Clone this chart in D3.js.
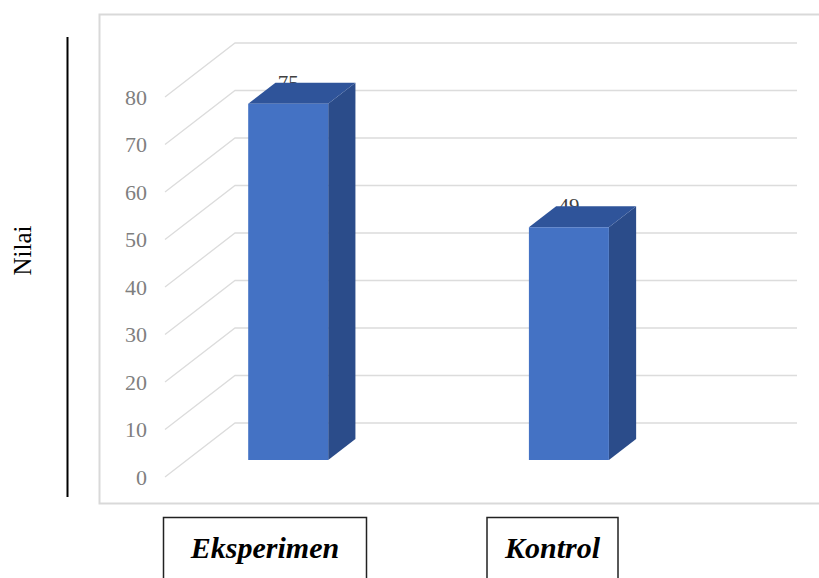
<!DOCTYPE html>
<html><head><meta charset="utf-8">
<script src="https://cdn.jsdelivr.net/npm/d3@7/dist/d3.min.js"></script>
<style>html,body{margin:0;padding:0;background:#fff;}svg{display:block;}</style>
</head><body>
<svg id="c" width="819" height="578"></svg>
<script>
const categories = ["Eksperimen", "Kontrol"];
const values = [75, 49];
const valueLabels = ["75", "49"];
const yTicks = [0, 10, 20, 30, 40, 50, 60, 70, 80];
const yTitle = "Nilai";

const svg = d3.select("#c");
svg.append("rect").attr("width", 819).attr("height", 578).attr("fill", "#fff");

// 3D projection parameters
const DX = 70, DY = -54;          // full-depth offset
const F0 = 0.315, F1 = 0.704;     // bar depth (front/back fraction)
const y = d3.scaleLinear().domain([0, 80]).range([477, 97]);
const x = d3.scaleBand().domain(categories).range([170, 643]).paddingInner(0.715).paddingOuter(0.2);
const P = (xw, v, f) => [xw + DX * f, y(v) + DY * f];

// chart area border
svg.append("rect").attr("x", 99.5).attr("y", 14.5).attr("width", 760).attr("height", 489)
  .attr("fill", "none").attr("stroke", "#d9d9d9").attr("stroke-width", 2);

// gridlines (side wall diagonal + back wall)
const grid = svg.append("g");
yTicks.forEach(t => {
  const x0 = 165, yy = y(t);
  grid.append("path")
    .attr("d", `M${x0},${yy}L${x0 + DX},${yy + DY}L797,${yy + DY}`)
    .attr("fill", "none").attr("stroke", "#dcdcdc").attr("stroke-width", 1.3);
});

// y axis tick labels
const ax = svg.append("g").attr("transform", "translate(147,0)")
  .call(d3.axisLeft(y).tickValues(yTicks).tickSize(0).tickPadding(0));
ax.select(".domain").remove();
ax.selectAll("text").attr("font-family", "'Liberation Serif', 'Times New Roman', serif")
  .attr("font-size", 22).attr("fill", "#7f7f7f");

// value labels (drawn before bars so the top face overlaps them)
svg.append("g").selectAll("text").data(categories).join("text")
  .attr("x", (c) => x(c) + x.bandwidth() / 2 + DX * F0)
  .attr("y", (c, i) => y(values[i]) + DY * F0 - 14)
  .attr("text-anchor", "middle")
  .attr("font-family", "'Liberation Serif', 'Times New Roman', serif")
  .attr("font-size", 21).attr("fill", "#404040")
  .text((c, i) => valueLabels[i]);

// bars
const bars = svg.append("g");
categories.forEach((c, i) => {
  const xl = x(c), xr = x(c) + x.bandwidth(), v = values[i];
  const poly = pts => "M" + pts.map(p => p.join(",")).join("L") + "Z";
  // side face
  bars.append("path").attr("d", poly([P(xr, 0, F0), P(xr, v, F0), P(xr, v, F1), P(xr, 0, F1)]))
    .attr("fill", "#2B4C8A");
  // top face
  bars.append("path").attr("d", poly([P(xl, v, F0), P(xl, v, F1), P(xr, v, F1), P(xr, v, F0)]))
    .attr("fill", "#2F549A");
  // front face
  bars.append("path").attr("d", poly([P(xl, 0, F0), P(xl, v, F0), P(xr, v, F0), P(xr, 0, F0)]))
    .attr("fill", "#4472C4");
});

// left vertical line and y title
svg.append("line").attr("x1", 67.5).attr("x2", 67.5).attr("y1", 37).attr("y2", 497)
  .attr("stroke", "#000").attr("stroke-width", 2);
svg.append("text").attr("transform", "translate(31,250.5) rotate(-90)")
  .attr("text-anchor", "middle")
  .attr("font-family", "'Liberation Serif', 'Times New Roman', serif")
  .attr("font-size", 25).attr("fill", "#000").text(yTitle);

// category label boxes
const boxes = [{cx: 265, w: 203}, {cx: 552.5, w: 131}];
categories.forEach((c, i) => {
  const b = boxes[i];
  svg.append("rect").attr("x", b.cx - b.w / 2).attr("y", 517.5).attr("width", b.w).attr("height", 80)
    .attr("fill", "#fff").attr("stroke", "#222").attr("stroke-width", 1.5);
  svg.append("text").attr("x", b.cx).attr("y", 558).attr("text-anchor", "middle")
    .attr("font-family", "'Liberation Serif', 'Times New Roman', serif")
    .attr("font-weight", "bold").attr("font-style", "italic")
    .attr("font-size", 30).attr("fill", "#000").text(c);
});
</script>
</body></html>
